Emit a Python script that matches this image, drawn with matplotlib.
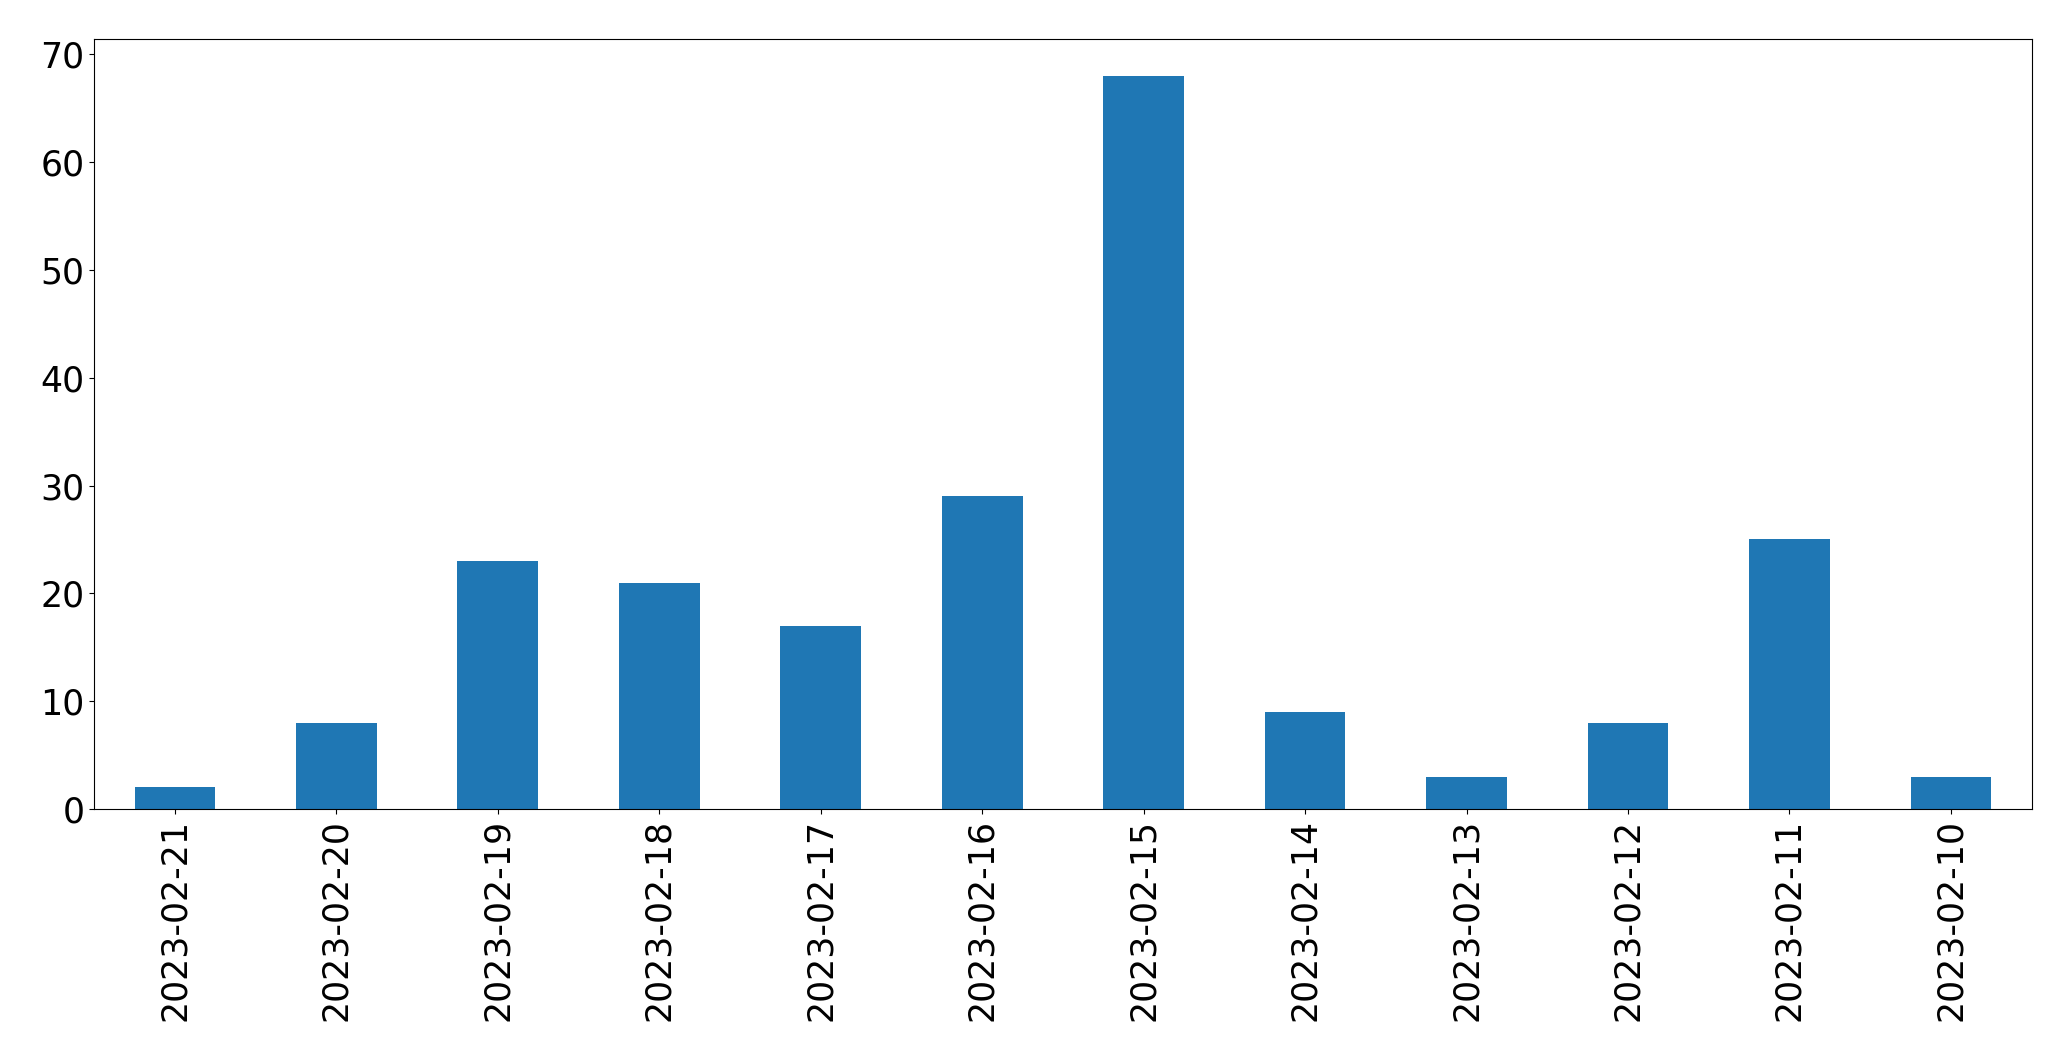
import pandas as pd
import matplotlib
matplotlib.use('Agg')
import matplotlib.pyplot as plt

dates = ['2023-02-21', '2023-02-20', '2023-02-19', '2023-02-18', '2023-02-17', '2023-02-16',
         '2023-02-15', '2023-02-14', '2023-02-13', '2023-02-12', '2023-02-11', '2023-02-10']
counts = [2, 8, 23, 21, 17, 29, 68, 9, 3, 8, 25, 3]

data = pd.Series(counts, index=dates)

fig = plt.figure(figsize=(20.71, 10.61), dpi=100)
ax = fig.add_axes([0.0455, 0.2375, 0.9355, 0.7255])
data.plot(kind='bar', ax=ax, fontsize=25)

fig.savefig('out.png', dpi=100)
